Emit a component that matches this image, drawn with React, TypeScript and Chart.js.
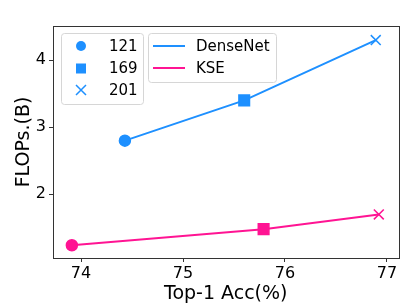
import React, { useEffect, useRef } from "react";
import { Chart, registerables } from "chart.js";

Chart.register(...registerables);

const depths = ["121", "169", "201"];
const accDenseNet = [74.43, 75.6, 76.89];
const flopsDenseNet = [2.8, 3.4, 4.3];
const accKSE = [73.91, 75.79, 76.92];
const flopsKSE = [1.24, 1.48, 1.7];
const xTicks = [74, 75, 76, 77];
const yTicks = [2, 3, 4];
const seriesNames = ["DenseNet", "KSE"];

const BLUE = "#1E90FF";
const PINK = "#FF1493";
const FONT = "'DejaVu Sans', sans-serif";
const SPINE = "#333";

const pointStyles = ["circle", "rect", "crossRot"];
const pointRadii = [5.5, 7.5, 7];

function roundRect(ctx: CanvasRenderingContext2D, x: number, y: number, w: number, h: number, r: number) {
  ctx.beginPath();
  ctx.moveTo(x + r, y);
  ctx.lineTo(x + w - r, y);
  ctx.quadraticCurveTo(x + w, y, x + w, y + r);
  ctx.lineTo(x + w, y + h - r);
  ctx.quadraticCurveTo(x + w, y + h, x + w - r, y + h);
  ctx.lineTo(x + r, y + h);
  ctx.quadraticCurveTo(x, y + h, x, y + h - r);
  ctx.lineTo(x, y + r);
  ctx.quadraticCurveTo(x, y, x + r, y);
  ctx.closePath();
}

const framePlugin = {
  id: "frameAndLegends",
  afterDraw(chart: any) {
    const ctx: CanvasRenderingContext2D = chart.ctx;
    const a = chart.chartArea;
    ctx.save();
    ctx.strokeStyle = SPINE;
    ctx.lineWidth = 1;
    ctx.strokeRect(Math.round(a.left) + 0.5, Math.round(a.top) + 0.5, Math.round(a.right - a.left), Math.round(a.bottom - a.top));

    // legend 1: markers
    const lx = a.left + 8, ly = a.top + 7;
    roundRect(ctx, lx + 0.5, ly + 0.5, 82, 71, 3);
    ctx.fillStyle = "rgba(255,255,255,0.8)";
    ctx.fill();
    ctx.strokeStyle = "#d6d6d6";
    ctx.stroke();
    ctx.font = "15px " + FONT;
    ctx.textBaseline = "middle";
    ctx.textAlign = "left";
    const rowsY = [ly + 13, ly + 35.5, ly + 57];
    depths.forEach((d, i) => {
      const mx = lx + 20, my = rowsY[i];
      ctx.fillStyle = BLUE;
      ctx.strokeStyle = BLUE;
      ctx.lineWidth = 1.5;
      if (i === 0) {
        ctx.beginPath();
        ctx.arc(mx, my, 5, 0, Math.PI * 2);
        ctx.fill();
      } else if (i === 1) {
        ctx.fillRect(mx - 5, my - 5, 10, 10);
      } else {
        ctx.beginPath();
        ctx.moveTo(mx - 5, my - 5);
        ctx.lineTo(mx + 5, my + 5);
        ctx.moveTo(mx - 5, my + 5);
        ctx.lineTo(mx + 5, my - 5);
        ctx.stroke();
      }
      ctx.fillStyle = "#000";
      ctx.fillText(d, lx + 48, my + 1);
    });

    // legend 2: lines
    const l2x = a.left + 95, l2y = ly;
    roundRect(ctx, l2x + 0.5, l2y + 0.5, 128, 49, 3);
    ctx.fillStyle = "rgba(255,255,255,0.8)";
    ctx.fill();
    ctx.strokeStyle = "#d6d6d6";
    ctx.lineWidth = 1;
    ctx.stroke();
    const colors = [BLUE, PINK];
    const lineY = [l2y + 13, l2y + 35];
    seriesNames.forEach((n, i) => {
      ctx.strokeStyle = colors[i];
      ctx.lineWidth = 2;
      ctx.beginPath();
      ctx.moveTo(l2x + 5, lineY[i]);
      ctx.lineTo(l2x + 37, lineY[i]);
      ctx.stroke();
      ctx.fillStyle = "#000";
      ctx.fillText(n, l2x + 48, lineY[i] + 1);
    });
    ctx.restore();
  },
};

export default function App() {
  const ref = useRef<HTMLCanvasElement | null>(null);
  useEffect(() => {
    document.body.style.margin = "0";
    const mk = (xs: number[], ys: number[]) => xs.map((x, i) => ({ x, y: ys[i] }));
    const chart = new Chart(ref.current as HTMLCanvasElement, {
      type: "line",
      data: {
        datasets: [
          {
            label: seriesNames[0],
            data: mk(accDenseNet, flopsDenseNet),
            borderColor: BLUE,
            backgroundColor: BLUE,
            pointBackgroundColor: BLUE,
            pointBorderColor: BLUE,
            pointStyle: pointStyles as any,
            pointRadius: pointRadii,
            pointBorderWidth: 1.5,
            borderWidth: 2,
          },
          {
            label: seriesNames[1],
            data: mk(accKSE, flopsKSE),
            borderColor: PINK,
            backgroundColor: PINK,
            pointBackgroundColor: PINK,
            pointBorderColor: PINK,
            pointStyle: pointStyles as any,
            pointRadius: pointRadii,
            pointBorderWidth: 1.5,
            borderWidth: 2,
          },
        ],
      },
      options: {
        animation: false,
        responsive: false,
        devicePixelRatio: 1,
        layout: { padding: { left: 0, right: 4, top: 26, bottom: 0 } },
        plugins: { legend: { display: false }, tooltip: { enabled: false } },
        scales: {
          x: {
            type: "linear",
            min: 73.725,
            max: 77.113,
            afterBuildTicks: (s: any) => {
              s.ticks = xTicks.map((v) => ({ value: v }));
            },
            afterFit: (s: any) => {
              s.height = 47;
            },
            grid: { drawOnChartArea: false, drawTicks: true, tickLength: 4, color: SPINE },
            border: { display: false },
            ticks: { color: "#000", font: { family: FONT, size: 16 }, padding: 2, maxRotation: 0 },
            title: { display: true, text: "Top-1 Acc(%)", color: "#000", font: { family: FONT, size: 19 }, padding: { top: 0, bottom: 0 } },
          },
          y: {
            type: "linear",
            min: 1.05,
            max: 4.51,
            afterBuildTicks: (s: any) => {
              s.ticks = yTicks.map((v) => ({ value: v }));
            },
            afterFit: (s: any) => {
              s.width = 53;
            },
            grid: { drawOnChartArea: false, drawTicks: true, tickLength: 4, color: SPINE },
            border: { display: false },
            ticks: { color: "#000", font: { family: FONT, size: 16 }, padding: 3 },
            title: { display: true, text: "FLOPs.(B)", color: "#000", font: { family: FONT, size: 19 }, padding: { top: 12.5, bottom: 0 } },
          },
        },
      },
      plugins: [framePlugin],
    } as any);
    return () => chart.destroy();
  }, []);
  return (
    <div style={{ position: "absolute", left: 0, top: 0, width: 407, height: 305 }}>
      <canvas ref={ref} width={407} height={305} style={{ width: 407, height: 305 }} />
    </div>
  );
}
